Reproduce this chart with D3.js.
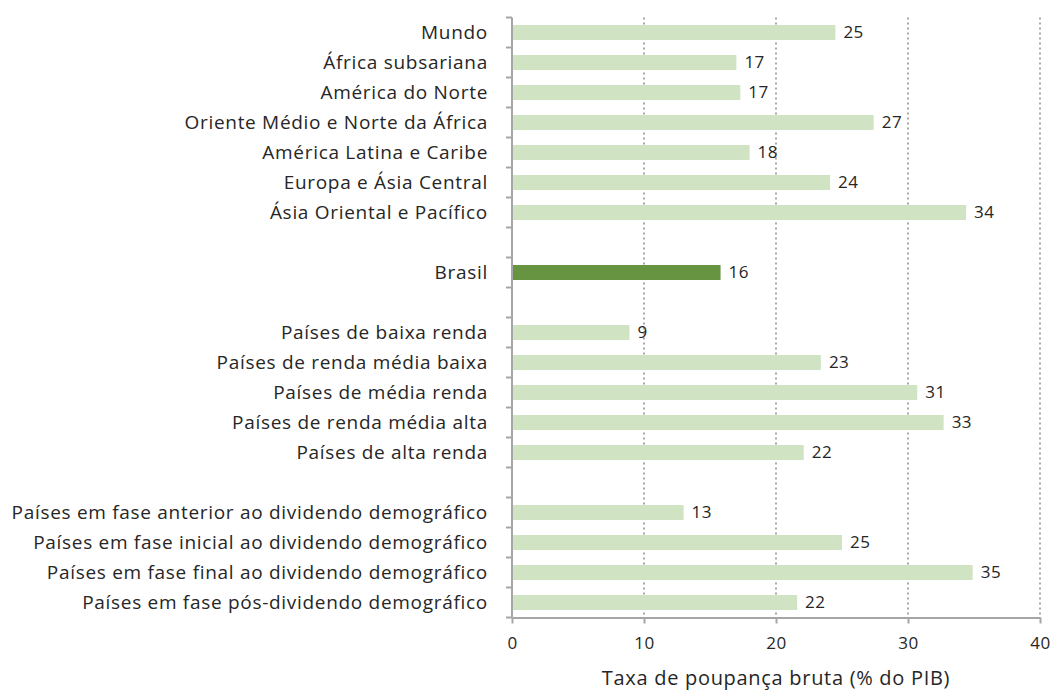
<!DOCTYPE html>
<html>
<head>
<meta charset="utf-8">
<script src="https://cdn.jsdelivr.net/npm/d3@7"></script>
<style>
  body { margin: 0; background: #fff; }
  svg { font-family: "Open Sans", sans-serif; }
  .cat { font-size: 19px; fill: #262626; letter-spacing: 0.7px; }
  .title { font-size: 20px; fill: #262626; letter-spacing: 0.7px; }
  .val { font-size: 17px; fill: #262626; letter-spacing: 0.5px; }
  .x.axis text { font-size: 17px; fill: #262626; font-family: "Open Sans", sans-serif; letter-spacing: 0.5px; }
  .axis path, .axis line { stroke: #a6a6a6; stroke-width: 2; }
  .grid line { stroke: #8c8c8c; stroke-width: 1.5; stroke-dasharray: 2,3; }
</style>
</head>
<body>
<div id="chart"></div>
<script>
// rows top to bottom, "" = blank spacer row
var categories = [
  "Mundo", "África subsariana", "América do Norte", "Oriente Médio e Norte da África",
  "América Latina e Caribe", "Europa e Ásia Central", "Ásia Oriental e Pacífico", "",
  "Brasil", "",
  "Países de baixa renda", "Países de renda média baixa", "Países de média renda",
  "Países de renda média alta", "Países de alta renda", "",
  "Países em fase anterior ao dividendo demográfico",
  "Países em fase inicial ao dividendo demográfico",
  "Países em fase final ao dividendo demográfico",
  "Países em fase pós-dividendo demográfico"
];
var values = [24.5, 17.0, 17.3, 27.4, 18.0, 24.1, 34.4, null,
  15.8, null,
  8.9, 23.4, 30.7, 32.7, 22.1, null,
  13.0, 25.0, 34.9, 21.6];
var highlight = "Brasil";
var xTicks = [0, 10, 20, 30, 40];
var xTitle = "Taxa de poupança bruta (% do PIB)";

var margin = {top: 17.5, right: 11, bottom: 73.5, left: 512},
    width = 1051 - margin.left - margin.right,
    height = 691 - margin.top - margin.bottom;

var rows = categories.map(function(c, i) { return {key: i, name: c, value: values[i]}; });

var x = d3.scaleLinear().domain([0, 40]).range([0, width]);
var y = d3.scaleBand().domain(rows.map(function(d) { return d.key; })).range([0, height]).paddingInner(0.5).paddingOuter(0.25);

var svg = d3.select("#chart").append("svg")
    .attr("width", 1051)
    .attr("height", 691)
  .append("g")
    .attr("transform", "translate(" + margin.left + "," + margin.top + ")");

// dotted gridlines
svg.append("g").attr("class", "grid")
  .selectAll("line")
  .data(xTicks.slice(1))
  .enter().append("line")
  .attr("x1", function(d) { return x(d); })
  .attr("x2", function(d) { return x(d); })
  .attr("y1", 0)
  .attr("y2", height);

// bars
svg.selectAll(".bar")
  .data(rows.filter(function(d) { return d.value != null; }))
  .enter().append("rect")
  .attr("class", "bar")
  .attr("x", 0)
  .attr("y", function(d) { return y(d.key); })
  .attr("width", function(d) { return x(d.value); })
  .attr("height", y.bandwidth())
  .attr("fill", function(d) { return d.name == highlight ? "#679441" : "#d0e4c3"; });

// value labels
svg.selectAll(".val")
  .data(rows.filter(function(d) { return d.value != null; }))
  .enter().append("text")
  .attr("class", "val")
  .attr("x", function(d) { return x(d.value) + 8; })
  .attr("y", function(d) { return y(d.key) + y.bandwidth() / 2; })
  .attr("dy", "0.35em")
  .text(function(d) { return Math.round(d.value); });

// category labels
svg.selectAll(".cat")
  .data(rows)
  .enter().append("text")
  .attr("class", "cat")
  .attr("x", -24)
  .attr("y", function(d) { return y(d.key) + y.bandwidth() / 2; })
  .attr("dy", "0.35em")
  .style("text-anchor", "end")
  .text(function(d) { return d.name; });

// y axis with ticks at row boundaries
var step = y.step();
var ya = svg.append("g").attr("class", "y axis");
ya.append("line").attr("x1", 0).attr("x2", 0).attr("y1", 0).attr("y2", height);
ya.selectAll(".tk")
  .data(d3.range(rows.length + 1))
  .enter().append("line")
  .attr("class", "tk")
  .attr("x1", -6).attr("x2", 0)
  .attr("y1", function(i) { return i * step; })
  .attr("y2", function(i) { return i * step; });

// x axis
svg.append("g")
  .attr("class", "x axis")
  .attr("transform", "translate(0," + height + ")")
  .call(d3.axisBottom(x).tickValues(xTicks).tickSize(6).tickSizeOuter(0).tickPadding(13));

svg.append("text")
  .attr("class", "title")
  .attr("x", width / 2)
  .attr("y", height + 67)
  .style("text-anchor", "middle")
  .text(xTitle);
</script>
</body>
</html>
